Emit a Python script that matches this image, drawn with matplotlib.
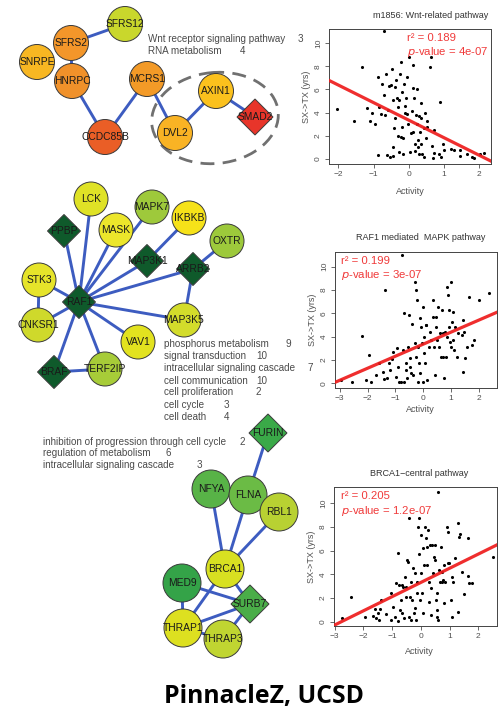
import matplotlib
matplotlib.use("Agg")
import matplotlib.pyplot as plt
from matplotlib.patches import Circle, Polygon, Ellipse

plt.rcParams['font.family'] = ['Liberation Sans', 'DejaVu Sans']

# ------------------------------------------------------------------ data
# Network 1 (Wnt-related)
net1_nodes = ["SFRS12", "SFRS2", "SNRPE", "HNRPC", "MCRS1", "CCDC85B", "DVL2", "AXIN1", "SMAD2"]
net1_colors = ["#c9d72c", "#f3962a", "#f8b722", "#f0912a", "#f39a27", "#ea5e26", "#f9b324", "#fbc11d", "#e8352a"]
net1_shapes = ["o", "o", "o", "o", "o", "o", "o", "o", "D"]
net1_edges = [("SFRS12", "SFRS2"), ("SFRS2", "HNRPC"), ("HNRPC", "CCDC85B"), ("CCDC85B", "MCRS1"),
              ("MCRS1", "DVL2"), ("DVL2", "AXIN1"), ("AXIN1", "SMAD2")]
net1_terms = ["Wnt receptor signaling pathway", "RNA metabolism"]
net1_counts = ["3", "4"]

# Network 2 (RAF1 mediated MAPK)
net2_nodes = ["LCK", "MAPK7", "IKBKB", "MASK", "PPBP", "OXTR", "MAP3K1", "ARRB2", "STK3", "RAF1",
              "CNKSR1", "MAP3K5", "VAV1", "TERF2IP", "BRAF"]
net2_colors = ["#dfe226", "#9ec93b", "#f6e219", "#ece62b", "#0f5a2b", "#9dc93b", "#0f5a2b", "#0f5a2b",
               "#e6e42a", "#0f5a2b", "#cfd92b", "#d3dc2b", "#e2e21f", "#a7cc38", "#0f5a2b"]
net2_shapes = ["o", "o", "o", "o", "D", "o", "D", "D", "o", "D", "o", "o", "o", "o", "D"]
net2_edges = [("RAF1", "LCK"), ("RAF1", "PPBP"), ("RAF1", "MASK"), ("RAF1", "MAPK7"), ("RAF1", "MAP3K1"),
              ("MAP3K1", "IKBKB"), ("RAF1", "ARRB2"), ("ARRB2", "OXTR"), ("ARRB2", "MAP3K5"),
              ("RAF1", "MAP3K5"), ("RAF1", "STK3"), ("STK3", "CNKSR1"), ("RAF1", "CNKSR1"),
              ("RAF1", "VAV1"), ("RAF1", "TERF2IP"), ("RAF1", "BRAF"), ("BRAF", "TERF2IP")]
net2_terms = ["phosphorus metabolism", "signal transduction", "intracellular signaling cascade",
              "cell communication", "cell proliferation", "cell cycle", "cell death"]
net2_counts = ["9", "10", "7", "10", "2", "3", "4"]

# Network 3 (BRCA1-central)
net3_nodes = ["FURIN", "NFYA", "FLNA", "RBL1", "BRCA1", "MED9", "SURB7", "THRAP1", "THRAP3"]
net3_colors = ["#3aa948", "#58b347", "#6bbb45", "#b8d132", "#d8e021", "#34a348", "#4aad48", "#dde020", "#c0d531"]
net3_shapes = ["D", "o", "o", "o", "o", "o", "D", "o", "o"]
net3_edges = [("FURIN", "FLNA"), ("NFYA", "BRCA1"), ("FLNA", "BRCA1"), ("RBL1", "BRCA1"),
              ("BRCA1", "SURB7"), ("BRCA1", "THRAP1"), ("MED9", "SURB7"), ("MED9", "THRAP1"),
              ("THRAP1", "SURB7"), ("THRAP1", "THRAP3"), ("THRAP3", "SURB7")]
net3_terms = ["inhibition of progression through cell cycle", "regulation of metabolism",
              "intracellular signaling cascade"]
net3_counts = ["2", "6", "3"]

# Scatter 1: m1856 Wnt-related pathway
wnt_x = [-2.04, -1.57, -1.33, -1.2, -1.1, -1.05, -0.97, -0.88, -0.88, -0.84, -0.79, -0.76, -0.7, -0.7,
         -0.68, -0.65, -0.62, -0.58, -0.55, -0.53, -0.5, -0.48, -0.46, -0.45, -0.44, -0.42, -0.39, -0.38,
         -0.36, -0.34, -0.32, -0.3, -0.29, -0.27, -0.25, -0.23, -0.22, -0.2, -0.19, -0.17, -0.16, -0.14,
         -0.12, -0.1, -0.08, -0.06, -0.04, -0.02, 0.0, 0.04, 0.06, 0.08, 0.11, 0.12, 0.13, 0.15, 0.17,
         0.19, 0.2, 0.22, 0.23, 0.25, 0.27, 0.28, 0.3, 0.32, 0.34, 0.35, 0.36, 0.39, 0.42, 0.44, 0.45,
         0.5, 0.53, 0.53, 0.59, 0.62, 0.65, 0.68, 0.72, 0.72, 0.86, 0.89, 0.91, 0.96, 1.0, 1.2, 1.3,
         1.45, 1.46, 1.67, 1.8, 1.85, 2.04, 2.15]
wnt_y = [4.28, 3.3, 7.96, 4.4, 3.3, 4.0, 3.0, 7.1, 0.35, 4.5, 3.9, 6.5, 11.0, 5.5,
         3.8, 7.3, 0.35, 4.2, 6.3, 0.2, 6.4, 7.8, 1.0, 0.3, 5.1, 2.7, 3.5, 6.2,
         6.8, 5.3, 4.5, 2.0, 0.6, 5.1, 7.3, 1.9, 8.4, 5.8, 2.8, 1.8, 0.4, 6.5,
         4.6, 4.0, 5.3, 7.1, 3.9, 3.0, 8.8, 0.6, 2.2, 4.1, 6.1, 2.3, 8.1, 5.3, 1.3,
         0.7, 3.8, 6.0, 3.0, 1.6, 1.0, 3.7, 0.4, 2.3, 3.5, 4.8, 1.3, 0.4, 2.7, 0.2, 4.0,
         1.8, 3.3, 2.8, 7.96, 8.8, 1.1, 0.1, 0.5, 2.5, 0.4, 4.9, 0.2, 1.3, 0.8, 0.9, 0.8,
         0.8, 0.3, 0.4, 0.2, 0.1, 0.4, 0.5]
wnt_fit = (-1.51, 3.35)   # slope, intercept
wnt_stats = ("0.189", "4e-07")

# Scatter 2: RAF1 mediated MAPK pathway
raf_x = [-2.97, -2.55, -2.2, -2.04, -1.94, -1.88, -1.7, -1.6, -1.45, -1.39, -1.36, -1.31, -1.24, -1.19,
         -1.12, -1.07, -0.99, -0.95, -0.91, -0.85, -0.79, -0.75, -0.73, -0.7, -0.67, -0.63, -0.61, -0.58,
         -0.55, -0.51, -0.48, -0.46, -0.42, -0.39, -0.36, -0.3, -0.28, -0.27, -0.24, -0.22, -0.19, -0.17,
         -0.15, -0.12, -0.1, -0.07, -0.05, -0.02, 0.0, 0.02, 0.05, 0.07, 0.1, 0.12, 0.15, 0.22, 0.24, 0.3,
         0.34, 0.36, 0.39, 0.42, 0.46, 0.48, 0.51, 0.55, 0.58, 0.61, 0.63, 0.67, 0.7, 0.73, 0.75, 0.79,
         0.82, 0.85, 0.87, 0.91, 0.92, 0.95, 0.97, 0.99, 1.02, 1.03, 1.07, 1.09, 1.12, 1.15, 1.21, 1.27,
         1.39, 1.43, 1.45, 1.48, 1.52, 1.58, 1.64, 1.76, 1.84, 2.0, 2.36]
raf_y = [0.29, 0.14, 4.06, 0.29, 2.43, 0.14, 0.71, 1.71, 1.0, 0.34, 8.0, 0.43, 1.71, 1.14,
         2.06, 2.71, 0.57, 3.0, 1.43, 0.14, 0.14, 11.0, 2.86, 6.0, 0.14, 1.14, 1.71, 0.43,
         3.14, 5.86, 2.14, 1.43, 0.86, 5.09, 0.71, 8.71, 3.43, 2.29, 8.0, 7.14, 0.14, 3.14,
         1.71, 5.57, 0.86, 4.86, 3.43, 0.14, 6.57, 4.0, 2.57, 1.71, 5.0, 5.0, 0.29, 3.14, 4.43, 3.71,
         5.71, 7.14, 3.14, 0.71, 5.71, 4.86, 3.71, 6.57, 3.14, 4.29, 2.29, 6.29, 2.29, 4.29, 0.43, 4.43,
         2.29, 8.29, 4.0, 7.57, 6.29, 4.86, 3.57, 3.14, 8.71, 5.29, 3.71, 6.14, 2.86, 4.86, 2.29, 4.29,
         4.14, 5.43, 1.0, 4.43, 2.14, 3.14, 7.43, 3.29, 3.71, 7.14, 7.77]
raf_fit = (1.03, 3.35)
raf_stats = ("0.199", "3e-07")

# Scatter 3: BRCA1-central pathway
brca_x = [-2.74, -2.42, -1.95, -1.66, -1.58, -1.55, -1.49, -1.47, -1.43, -1.37, -1.2, -1.05, -1.02, -0.97,
          -0.91, -0.85, -0.81, -0.79, -0.77, -0.73, -0.7, -0.67, -0.65, -0.62, -0.58, -0.56, -0.53, -0.5,
          -0.47, -0.44, -0.42, -0.4, -0.38, -0.35, -0.33, -0.3, -0.27, -0.24, -0.21, -0.19, -0.16, -0.14,
          -0.12, -0.09, -0.07, -0.05, -0.02, 0.0, 0.02, 0.05, 0.07, 0.09, 0.12, 0.14, 0.17, 0.2, 0.22, 0.26,
          0.28, 0.3, 0.33, 0.35, 0.37, 0.4, 0.43, 0.47, 0.49, 0.51, 0.53, 0.55, 0.56, 0.58, 0.6, 0.6, 0.64,
          0.67, 0.7, 0.72, 0.74, 0.77, 0.79, 0.81, 0.84, 0.9, 0.93, 0.95, 0.98, 1.05, 1.07, 1.09, 1.13,
          1.19, 1.28, 1.3, 1.33, 1.36, 1.42, 1.51, 1.63, 1.65, 1.67, 1.79, 2.52]
brca_y = [0.28, 2.11, 0.37, 0.51, 1.07, 0.28, 0.7, 0.14, 1.04, 1.83, 0.65, 2.45, 0.14, 1.27,
          0.42, 3.24, 0.08, 5.77, 3.1, 0.99, 1.83, 3.1, 0.7, 2.96, 0.28, 3.75, 2.11, 2.96,
          5.21, 5.07, 8.73, 0.42, 2.11, 3.38, 0.14, 1.83, 4.51, 0.7, 4.08, 1.13, 0.14, 3.38,
          2.39, 8.03, 5.69, 8.73, 1.83, 7.32, 4.08, 2.39, 6.2, 0.7, 4.79, 8.03, 7.04, 4.79, 6.34, 7.75,
          1.69, 3.38, 6.48, 2.82, 0.56, 6.48, 4.08, 5.49, 5.21, 6.48, 1.83, 2.39, 0.99, 0.42, 10.99, 0.14, 4.37,
          3.38, 6.34, 3.38, 4.23, 3.52, 1.55, 4.79, 3.38, 7.97, 4.93, 7.61, 4.93, 1.83, 0.42, 3.8, 3.38,
          5.35, 8.31, 0.85, 7.18, 7.38, 4.23, 2.31, 7.1, 3.89, 3.3, 3.3, 5.49]
brca_fit = (1.20, 3.31)
brca_stats = ("0.205", "1.2e-07")

scatter_titles = ["m1856: Wnt-related pathway", "RAF1 mediated  MAPK pathway", "BRCA1\u2212central pathway"]
x_ticks = [[-2, -1, 0, 1, 2], [-3, -2, -1, 0, 1, 2], [-3, -2, -1, 0, 1, 2]]
y_ticks = [0, 2, 4, 6, 8, 10]

# ------------------------------------------------------------------ layout (pixels)
W, H = 498, 711
pos = {
    # network 1
    "SFRS12": (125, 24), "SFRS2": (71, 43), "SNRPE": (37, 62), "HNRPC": (72, 81), "MCRS1": (147, 79),
    "CCDC85B": (105, 137), "DVL2": (175, 133), "AXIN1": (216, 91), "SMAD2": (255, 117),
    # network 2
    "LCK": (91, 199), "MAPK7": (152, 207), "IKBKB": (189, 218), "MASK": (116, 230), "PPBP": (64, 231),
    "OXTR": (227, 241), "MAP3K1": (147, 261), "ARRB2": (193, 269), "STK3": (39, 280), "RAF1": (79, 302),
    "CNKSR1": (38, 325), "MAP3K5": (184, 320), "VAV1": (138, 342), "TERF2IP": (105, 369), "BRAF": (54, 372),
    # network 3
    "FURIN": (268, 433), "NFYA": (211, 489), "FLNA": (248, 495), "RBL1": (279, 512), "BRCA1": (225, 569),
    "MED9": (182, 583), "SURB7": (250, 604), "THRAP1": (183, 628), "THRAP3": (223, 639),
}
radius = {1: 17.5, 2: 17, 3: 19}
diamond_half = {1: 18, 2: 16.5, 3: 19}

fig = plt.figure(figsize=(W / 100, H / 100), dpi=100)
bg = fig.add_axes([0, 0, 1, 1])
bg.set_xlim(0, W)
bg.set_ylim(H, 0)
bg.axis("off")

EDGE = "#3d5cc0"


def draw_network(nodes, colors, shapes, edges, k):
    for a, b in edges:
        (x1, y1), (x2, y2) = pos[a], pos[b]
        bg.plot([x1, x2], [y1, y2], color=EDGE, lw=2.1, zorder=1, solid_capstyle="butt")
    for name, c, s in zip(nodes, colors, shapes):
        x, y = pos[name]
        if s == "o":
            p = Circle((x, y), radius[k], facecolor=c, edgecolor="#3a3a3a", lw=0.7, zorder=2)
        else:
            h = diamond_half[k]
            p = Polygon([(x - h, y), (x, y - h), (x + h, y), (x, y + h)], closed=True,
                        facecolor=c, edgecolor="#3a3a3a", lw=0.7, zorder=2)
        bg.add_patch(p)
        bg.text(x, y, name, ha="center", va="center", fontsize=7.4, color="#1a1a1a", zorder=3)


draw_network(net1_nodes, net1_colors, net1_shapes, net1_edges, 1)
draw_network(net2_nodes, net2_colors, net2_shapes, net2_edges, 2)
draw_network(net3_nodes, net3_colors, net3_shapes, net3_edges, 3)

# dashed module outline
bg.add_patch(Ellipse((215, 118), 127, 91, angle=-6, fill=False, edgecolor="#707070",
                     lw=2.0, linestyle=(0, (5, 3)), zorder=0))

# GO term lists
TERM_C = "#4a4a4a"
term_specs = [
    (net1_terms, net1_counts, 148, [39.3, 51.0], [298, 240]),
    (net2_terms, net2_counts, 164, [344, 355.7, 368.3, 380.7, 392.3, 405, 416.7],
     [285, 256, 307, 256, 255, 224, 224]),
    (net3_terms, net3_counts, 43, [441.7, 453.3, 465.3], [239, 166, 197]),
]
for terms, counts, x0, ys, cx in term_specs:
    for t, c, y, xc in zip(terms, counts, ys, cx):
        bg.text(x0, y, t, ha="left", va="center", fontsize=7.1, color=TERM_C)
        bg.text(xc, y, c, ha="left", va="center", fontsize=7.1, color=TERM_C)

# ------------------------------------------------------------------ scatter panels
panels = [
    dict(box=(329, 491, 29, 164), xlim=(-2.27, 2.34), ylim=(-0.43, 11.21), x=wnt_x, y=wnt_y,
         fit=wnt_fit, stats=wnt_stats, txt=(0.48, 0.935), title_x=431, title_y=15, xlab=(410, 191)),
    dict(box=(335, 497, 252, 388), xlim=(-3.17, 2.66), ylim=(-0.4, 11.25), x=raf_x, y=raf_y,
         fit=raf_fit, stats=raf_stats, txt=(0.04, 0.935), title_x=421, title_y=238, xlab=(420, 410)),
    dict(box=(334, 497, 487, 626), xlim=(-3.02, 2.65), ylim=(-0.37, 11.38), x=brca_x, y=brca_y,
         fit=brca_fit, stats=brca_stats, txt=(0.04, 0.935), title_x=419, title_y=474, xlab=(419, 652)),
]

GRAY = "#505050"
for i, p in enumerate(panels):
    l, r, t, b = p["box"]
    ax = fig.add_axes([l / W, 1 - b / H, (r - l) / W, (b - t) / H])
    ax.scatter(p["x"], p["y"], s=5, color="black", zorder=2, linewidths=0)
    slope, icpt = p["fit"]
    xs = list(p["xlim"])
    ax.plot(xs, [icpt + slope * v for v in xs], color="#ee1c1c", lw=2.3, zorder=3, alpha=0.92)
    ax.set_xlim(*p["xlim"])
    ax.set_ylim(*p["ylim"])
    ax.set_xticks(x_ticks[i])
    ax.set_yticks(y_ticks)
    ax.tick_params(axis="both", direction="out", length=3, width=0.6, labelsize=6, colors=GRAY, pad=2)
    ax.tick_params(axis="y", labelrotation=90)
    for lbl in ax.get_yticklabels():
        lbl.set_va("center")
    for sp in ax.spines.values():
        sp.set_linewidth(0.7)
        sp.set_color("#444444")
    ax.set_ylabel("SX->TX (yrs)", fontsize=6.5, color=GRAY, labelpad=3)
    fig.text(p["xlab"][0] / W, 1 - p["xlab"][1] / H, "Activity", ha="center", va="center",
             fontsize=6.5, color=GRAY)
    fig.text(p["title_x"] / W, 1 - p["title_y"] / H, scatter_titles[i], ha="center", va="center",
             fontsize=6.5, color="#333333")
    tx, ty = p["txt"]
    ax.text(tx, ty, "r\u00b2 = " + p["stats"][0], transform=ax.transAxes, ha="left", va="center",
            fontsize=8.2, color="#f03a3a")
    ax.text(tx, ty - 0.105, "$p$-value = " + p["stats"][1], transform=ax.transAxes, ha="left",
            va="center", fontsize=8.2, color="#f03a3a")

fig.text(264 / W, 1 - 697 / H, "PinnacleZ, UCSD", ha="center", va="center", fontsize=17.8,
         fontweight="bold", family=["Open Sans", "DejaVu Sans"], color="black")

fig.savefig("out.png", dpi=100)
